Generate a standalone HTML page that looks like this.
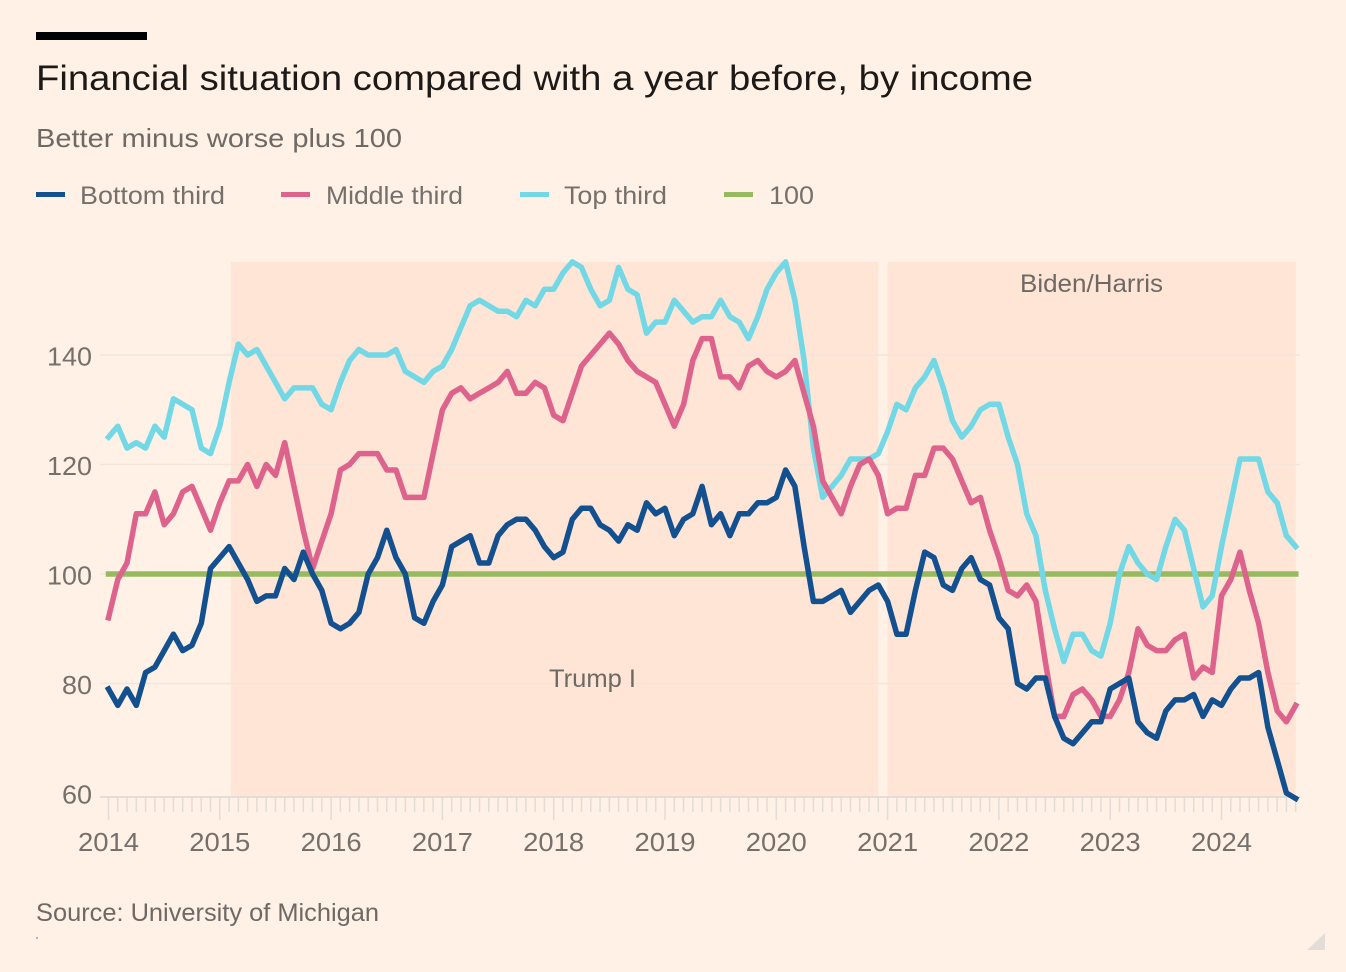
<!DOCTYPE html>
<html lang="en">
<head>
<meta charset="utf-8">
<title>Financial situation compared with a year before, by income</title>
<style>
html,body{margin:0;padding:0;background:#fff1e6;}
svg{display:block;font-family:"Liberation Sans",sans-serif;}
</style>
</head>
<body>
<svg id="chart" xmlns="http://www.w3.org/2000/svg" width="1346" height="972" viewBox="0 0 1346 972">
  <rect x="0" y="0" width="1346" height="972" fill="#fff1e6"/>
  <rect x="36" y="32" width="111" height="8" fill="#000"/>
  <text x="36" y="90" font-size="35" fill="#1c1917" textLength="997" lengthAdjust="spacingAndGlyphs">Financial situation compared with a year before, by income</text>
  <text x="36" y="147" font-size="26" fill="#6e6964" textLength="366" lengthAdjust="spacingAndGlyphs">Better minus worse plus 100</text>
  <g>
    <g>
      <rect x="36" y="192" width="29" height="5" fill="#13508f"/>
      <text x="80" y="204" font-size="25" fill="#75706b" textLength="145" lengthAdjust="spacingAndGlyphs">Bottom third</text>
    </g>
    <g>
      <rect x="281" y="192" width="29" height="5" fill="#de638c"/>
      <text x="326" y="204" font-size="25" fill="#75706b" textLength="137" lengthAdjust="spacingAndGlyphs">Middle third</text>
    </g>
    <g>
      <rect x="520" y="192" width="29" height="5" fill="#73d8e6"/>
      <text x="564" y="204" font-size="25" fill="#75706b" textLength="103" lengthAdjust="spacingAndGlyphs">Top third</text>
    </g>
    <g>
      <rect x="724" y="192" width="29" height="5" fill="#96ba5e"/>
      <text x="769" y="204" font-size="25" fill="#75706b" textLength="45" lengthAdjust="spacingAndGlyphs">100</text>
    </g>
  </g>
  <g id="plot"></g>
  <text x="36" y="921" font-size="25" fill="#6e6964" textLength="343" lengthAdjust="spacingAndGlyphs">Source: University of Michigan</text>
  <rect x="36" y="937" width="2" height="2" fill="#b8b2ad"/>
  <polygon points="1307,950 1325,933 1325,950" fill="#e3ddd8"/>
</svg>
<script>
// Months are counted from January 2014 (index 0) through September 2024 (index 128).
const yearLabels = ['2014','2015','2016','2017','2018','2019','2020','2021','2022','2023','2024'];
const yTickValues = [60, 80, 100, 120, 140];
const bottomThird = [
  79,76,79,76,82,83,86,89,86,87,91,101,
  103,105,102,99,95,96,96,101,99,104,100,97,
  91,90,91,93,100,103,108,103,100,92,91,95,
  98,105,106,107,102,102,107,109,110,110,108,105,
  103,104,110,112,112,109,108,106,109,108,113,111,
  112,107,110,111,116,109,111,107,111,111,113,113,
  114,119,116,105,95,95,96,97,93,95,97,98,
  95,89,89,97,104,103,98,97,101,103,99,98,
  92,90,80,79,81,81,74,70,69,71,73,73,
  79,80,81,73,71,70,75,77,77,78,74,77,
  76,79,81,81,82,72,66,60,59
];
const middleThird = [
  92,99,102,111,111,115,109,111,115,116,112,108,
  113,117,117,120,116,120,118,124,116,108,101,106,
  111,119,120,122,122,122,119,119,114,114,114,122,
  130,133,134,132,133,134,135,137,133,133,135,134,
  129,128,133,138,140,142,144,142,139,137,136,135,
  131,127,131,139,143,143,136,136,134,138,139,137,
  136,137,139,133,127,117,114,111,116,120,121,118,
  111,112,112,118,118,123,123,121,117,113,114,108,
  103,97,96,98,95,84,74,74,78,79,77,74,
  74,77,82,90,87,86,86,88,89,81,83,82,
  96,99,104,97,91,82,75,73,76
];
const topThird = [
  125,127,123,124,123,127,125,132,131,130,123,122,
  127,135,142,140,141,138,135,132,134,134,134,131,
  130,135,139,141,140,140,140,141,137,136,135,137,
  138,141,145,149,150,149,148,148,147,150,149,152,
  152,155,157,156,152,149,150,156,152,151,144,146,
  146,150,148,146,147,147,150,147,146,143,147,152,
  155,157,150,139,123,114,116,118,121,121,121,122,
  126,131,130,134,136,139,134,128,125,127,130,131,
  131,125,120,111,107,97,90,84,89,89,86,85,
  91,100,105,102,100,99,105,110,108,101,94,96,
  105,113,121,121,121,115,113,107,105
];
const referenceLevel = [100, 100];
const referenceMonths = [0, 128];
const trumpMonths = [13.2, 83];
const bidenMonths = [84, 128];

const NS = 'http://www.w3.org/2000/svg';
const plot = document.getElementById('plot');
function xScale(month){ return 108.5 + month * 9.275; }
function yScale(value){ return 574 - (value - 100) * 5.475; }
function make(tag, attrs, text){
  const el = document.createElementNS(NS, tag);
  Object.keys(attrs).forEach(function(k){ el.setAttribute(k, attrs[k]); });
  if (text !== undefined) el.textContent = text;
  plot.appendChild(el);
  return el;
}
const plotTop = 262, plotBottom = 797;

// presidential-term bands
const trumpBand = make('rect', {x:xScale(trumpMonths[0]), y:plotTop, width:xScale(trumpMonths[1])-xScale(trumpMonths[0]), height:plotBottom-plotTop, fill:'#fee5d6'});


const bidenBand = make('rect', {x:xScale(bidenMonths[0]), y:plotTop, width:xScale(bidenMonths[1])-xScale(bidenMonths[0]), height:plotBottom-plotTop, fill:'#fee5d6'});



// gridlines and y labels
yTickValues.forEach(function(v){
  if (v !== yTickValues[0]) {
    const grid = make('line', {x1:100, x2:1300, y1:yScale(v), y2:yScale(v), stroke:'#f4e5d9', 'stroke-width':1.5});
    
    
  }
  const label = make('text', {x:92, y:yScale(v)+10.5, 'text-anchor':'end', 'font-size':26, fill:'#75706b', textLength:v>=100?45:30, lengthAdjust:'spacingAndGlyphs'}, String(v));
  
  
});

// x axis
topThird.forEach(function(_, m){
  const isYear = m % 12 === 0;
  const tick = make('line', {x1:xScale(m), x2:xScale(m), y1:plotBottom, y2:plotBottom+(isYear?23:15), stroke:'#e2dcd6', 'stroke-width':1.5});
  
  
});
const axisLine = make('line', {x1:100, x2:1300, y1:plotBottom, y2:plotBottom, stroke:'#dcd8d4', 'stroke-width':1.5});


yearLabels.forEach(function(year, i){
  const label = make('text', {x:xScale(i*12), y:851, 'text-anchor':'middle', 'font-size':26, fill:'#75706b', textLength:61, lengthAdjust:'spacingAndGlyphs'}, year);
  
  
});

// series
function linePath(values, months){
  return values.map(function(v, i){
    const m = months ? months[i] : i;
    return (i ? 'L' : 'M') + xScale(m).toFixed(1) + ' ' + yScale(v).toFixed(1);
  }).join(' ');
}
function drawSeries(values, months, color){
  return make('path', {d:linePath(values, months), fill:'none', stroke:color, 'stroke-width':5.5, 'stroke-linejoin':'round', 'stroke-linecap':'square'});
}
const refLine = drawSeries(referenceLevel, referenceMonths, '#96ba5e');


const topLine = drawSeries(topThird, null, '#73d8e6');


const midLine = drawSeries(middleThird, null, '#de638c');


const botLine = drawSeries(bottomThird, null, '#13508f');



// annotations
const trumpLabel = make('text', {x:549, y:687, 'font-size':25, fill:'#6e6964', textLength:87, lengthAdjust:'spacingAndGlyphs'}, 'Trump I');


const bidenLabel = make('text', {x:1020, y:292, 'font-size':25, fill:'#6e6964', textLength:143, lengthAdjust:'spacingAndGlyphs'}, 'Biden/Harris');


</script>
</body>
</html>
